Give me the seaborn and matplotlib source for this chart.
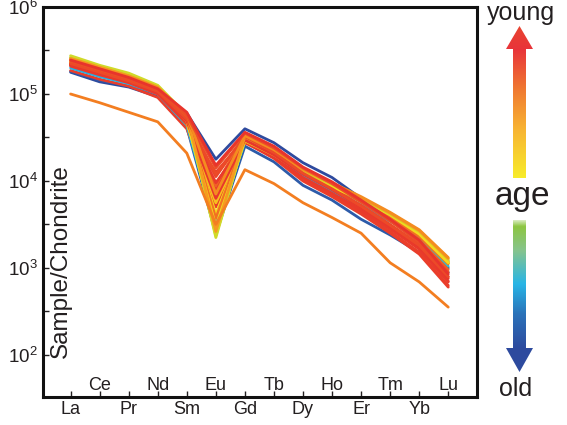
import numpy as np
import pandas as pd
import matplotlib
matplotlib.use("Agg")
import matplotlib.pyplot as plt
import seaborn as sns
from matplotlib.colors import LinearSegmentedColormap
from matplotlib.patches import Polygon
from matplotlib.ticker import FixedLocator, FixedFormatter, NullFormatter

# ---------------- data ----------------
elements = ["La", "Ce", "Pr", "Nd", "Sm", "Eu", "Gd", "Tb", "Dy", "Ho", "Er", "Tm", "Yb", "Lu"]

# log10(Sample/Chondrite) for each profile
blue_a   = [5.25, 5.14, 5.08, 4.97, 4.78, 4.25, 4.60, 4.44, 4.21, 4.04, 3.80, 3.55, 3.30, 3.00]
blue_b   = [5.26, 5.16, 5.09, 4.99, 4.62, 3.39, 4.40, 4.22, 3.95, 3.78, 3.56, 3.38, 3.18, 2.95]
cyan_a   = [5.30, 5.20, 5.12, 5.00, 4.64, 3.46, 4.45, 4.28, 4.05, 3.88, 3.72, 3.54, 3.36, 3.08]
cyan_b   = [5.33, 5.23, 5.14, 5.03, 4.70, 3.50, 4.47, 4.30, 4.08, 3.90, 3.72, 3.54, 3.35, 3.02]
green_a  = [5.42, 5.32, 5.22, 5.09, 4.74, 3.43, 4.48, 4.32, 4.10, 3.94, 3.76, 3.58, 3.38, 3.06]
lime_a   = [5.44, 5.33, 5.24, 5.10, 4.76, 3.35, 4.50, 4.34, 4.12, 3.96, 3.80, 3.62, 3.42, 3.10]
yellow_a = [5.40, 5.30, 5.20, 5.07, 4.72, 3.37, 4.49, 4.33, 4.12, 3.96, 3.80, 3.62, 3.40, 3.08]
yellow_b = [5.38, 5.28, 5.18, 5.06, 4.68, 3.62, 4.47, 4.31, 4.10, 3.95, 3.78, 3.60, 3.38, 3.05]
yellow_c = [5.39, 5.29, 5.19, 5.06, 4.69, 3.48, 4.46, 4.30, 4.09, 3.93, 3.79, 3.61, 3.39, 3.06]
amber_a  = [5.37, 5.27, 5.18, 5.05, 4.66, 3.75, 4.46, 4.30, 4.10, 3.94, 3.78, 3.60, 3.40, 3.07]
orange_a = [5.40, 5.29, 5.20, 5.07, 4.77, 3.85, 4.52, 4.36, 4.14, 3.98, 3.82, 3.64, 3.44, 3.12]
orange_b = [5.36, 5.26, 5.17, 5.04, 4.70, 3.57, 4.50, 4.33, 4.11, 3.95, 3.78, 3.58, 3.36, 3.05]
orange_c = [5.35, 5.25, 5.16, 5.04, 4.65, 3.95, 4.53, 4.36, 4.13, 3.96, 3.76, 3.55, 3.32, 2.98]
orange_d = [5.41, 5.31, 5.21, 5.08, 4.76, 3.42, 4.51, 4.35, 4.13, 3.97, 3.81, 3.63, 3.43, 3.11]
red_a    = [5.38, 5.28, 5.18, 5.05, 4.75, 4.15, 4.55, 4.38, 4.15, 3.97, 3.76, 3.54, 3.30, 2.95]
red_b    = [5.36, 5.26, 5.16, 5.03, 4.68, 4.05, 4.52, 4.35, 4.10, 3.92, 3.72, 3.50, 3.27, 2.90]
red_c    = [5.34, 5.24, 5.15, 5.02, 4.64, 3.90, 4.50, 4.32, 4.06, 3.88, 3.68, 3.46, 3.22, 2.85]
red_d    = [5.33, 5.23, 5.13, 5.00, 4.62, 4.10, 4.48, 4.29, 4.02, 3.84, 3.64, 3.42, 3.18, 2.80]
red_e    = [5.27, 5.17, 5.09, 4.96, 4.60, 3.70, 4.45, 4.26, 4.00, 3.82, 3.62, 3.40, 3.16, 2.78]
red_f    = [5.32, 5.22, 5.13, 5.00, 4.66, 3.98, 4.44, 4.27, 4.04, 3.86, 3.66, 3.45, 3.22, 2.84]
red_g    = [5.34, 5.24, 5.15, 5.02, 4.69, 3.80, 4.47, 4.30, 4.08, 3.90, 3.70, 3.48, 3.25, 2.88]
red_h    = [5.39, 5.29, 5.19, 5.06, 4.79, 4.18, 4.56, 4.40, 4.16, 3.99, 3.78, 3.56, 3.32, 2.93]
red_i    = [5.35, 5.25, 5.15, 5.03, 4.71, 4.08, 4.51, 4.33, 4.09, 3.91, 3.71, 3.49, 3.26, 2.90]
outlier  = [5.00, 4.90, 4.79, 4.68, 4.32, 3.50, 4.13, 3.97, 3.75, 3.58, 3.40, 3.06, 2.84, 2.55]

# drawing order (first drawn = underneath)
sample_names = ["blue_a", "blue_b", "cyan_b", "green_a", "red_d", "red_e", "red_c",
                "cyan_a", "yellow_a", "red_b", "yellow_b", "orange_c", "amber_a", "red_f",
                "orange_b", "yellow_c", "lime_a", "red_g", "orange_d", "red_i",
                "orange_a", "red_a", "red_h", "outlier"]
profiles = [blue_a, blue_b, cyan_b, green_a, red_d, red_e, red_c,
            cyan_a, yellow_a, red_b, yellow_b, orange_c, amber_a, red_f,
            orange_b, yellow_c, lime_a, red_g, orange_d, red_i,
            orange_a, red_a, red_h, outlier]
# relative age (0 = old, 1 = young)
ages = [0.0, 0.04, 0.28, 0.46, 0.96, 0.97, 0.95,
        0.24, 0.61, 0.94, 0.64, 0.86, 0.70, 0.98,
        0.82, 0.63, 0.55, 0.99, 0.76, 0.93,
        0.78, 0.92, 1.0, 0.80]

y_ticks = [1e2, 1e3, 1e4, 1e5, 1e6]
y_ticklabels = [r"$\mathregular{10^{2}}$", r"$\mathregular{10^{3}}$", r"$\mathregular{10^{4}}$",
                r"$\mathregular{10^{5}}$", r"$\mathregular{10^{6}}$"]

# ---------------- style ----------------
sns.set_style("ticks")
plt.rcParams["font.family"] = ["Liberation Sans", "DejaVu Sans"]
plt.rcParams["mathtext.fontset"] = "custom"
plt.rcParams["mathtext.rm"] = "Liberation Sans"
TXT = "#231f20"

age_cmap = LinearSegmentedColormap.from_list(
    "age", [(0.0, "#2e4a9e"), (0.25, "#27b4e4"), (0.45, "#8dc63f"),
            (0.6, "#f3e51d"), (0.72, "#f8b81e"), (0.82, "#f26f22"), (1.0, "#e8342c")])

rows = []
for name, prof in zip(sample_names, profiles):
    for i, (el, v) in enumerate(zip(elements, prof)):
        rows.append({"sample": name, "pos": i, "element": el, "value": 10 ** v})
df = pd.DataFrame(rows)
palette = {n: age_cmap(a) for n, a in zip(sample_names, ages)}

fig = plt.figure(figsize=(5.67, 4.25), dpi=100)
ax = fig.add_axes([43 / 567, 28 / 425, 434 / 567, 390 / 425])

sns.lineplot(data=df, x="pos", y="value", hue="sample", hue_order=sample_names,
             palette=palette, legend=False, sort=False, linewidth=2.0, ax=ax,
             estimator=None)

ax.set_yscale("log")
ax.set_ylim(10 ** 1.517, 1e6)
ax.set_xlim(-0.95, 13.99)

ax.yaxis.set_major_locator(FixedLocator(y_ticks))
ax.yaxis.set_major_formatter(FixedFormatter(y_ticklabels))
ax.yaxis.set_minor_locator(FixedLocator([10 ** (k + 0.5) for k in range(1, 6)]))
ax.yaxis.set_minor_formatter(NullFormatter())
ax.tick_params(axis="y", which="both", direction="in", length=4, width=1.0,
               pad=4, labelsize=13.5, labelcolor=TXT, color=TXT)

ax.set_xticks(range(len(elements)))
ax.set_xticklabels([el if i % 2 == 0 else "" for i, el in enumerate(elements)])
ax.tick_params(axis="x", which="both", direction="in", length=4, width=1.0,
               pad=3, labelsize=13, labelcolor=TXT, color=TXT)
for i, el in enumerate(elements):
    if i % 2 == 1:
        ax.text(i, 0.018, el, transform=ax.get_xaxis_transform(), ha="center",
                va="baseline", fontsize=13, color=TXT)

ax.set_xlabel("")
ax.set_ylabel("")
ax.text(0.041, 0.349, "Sample/Chondrite", transform=ax.transAxes, rotation=90,
        ha="center", va="center", fontsize=17.5, color=TXT)

for sp in ax.spines.values():
    sp.set_linewidth(2.2)
    sp.set_color("#111111")

# ---------------- age arrows ----------------
ov = fig.add_axes([0, 0, 1, 1], zorder=5)
ov.set_xlim(0, 567)
ov.set_ylim(425, 0)
ov.axis("off")
ov.patch.set_alpha(0)


def grad_arrow(y_top, y_bot, head_at_top, head_len, stops):
    cx, sw, hw = 519.5, 6.5, 13.5
    if head_at_top:
        hb = y_top + head_len
        poly = [(cx - sw, y_bot), (cx - sw, hb), (cx - hw, hb), (cx, y_top),
                (cx + hw, hb), (cx + sw, hb), (cx + sw, y_bot)]
    else:
        hb = y_bot - head_len
        poly = [(cx - sw, y_top), (cx - sw, hb), (cx - hw, hb), (cx, y_bot),
                (cx + hw, hb), (cx + sw, hb), (cx + sw, y_top)]
    patch = Polygon(poly, closed=True, fill=False, lw=0)
    ov.add_patch(patch)
    cm = LinearSegmentedColormap.from_list("g", stops)
    grad = np.linspace(0, 1, 256).reshape(-1, 1)
    im = ov.imshow(grad, cmap=cm, extent=[cx - hw, cx + hw, y_bot, y_top],
                   aspect="auto", origin="upper", interpolation="bilinear")
    im.set_clip_path(patch)


grad_arrow(26, 178, True, 23,
           [(0.0, "#e94430"), (0.15, "#e8343a"), (0.42, "#f07a31"),
            (0.68, "#f8b433"), (1.0, "#f7ec2a")])
grad_arrow(220, 372, False, 24,
           [(0.0, "#d9ecc0"), (0.04, "#8dc641"), (0.2, "#86c48e"), (0.42, "#28b5e6"),
            (0.62, "#2b72b9"), (0.84, "#2d4b9f"), (1.0, "#2e4a9e")])
ov.set_xlim(0, 567)
ov.set_ylim(425, 0)

ov.text(521, 20, "young", ha="center", va="baseline", fontsize=18, color=TXT)
ov.text(522.5, 205, "age", ha="center", va="baseline", fontsize=24, color=TXT)
ov.text(516, 396, "old", ha="center", va="baseline", fontsize=18, color=TXT)

fig.savefig("out.png", dpi=100)
